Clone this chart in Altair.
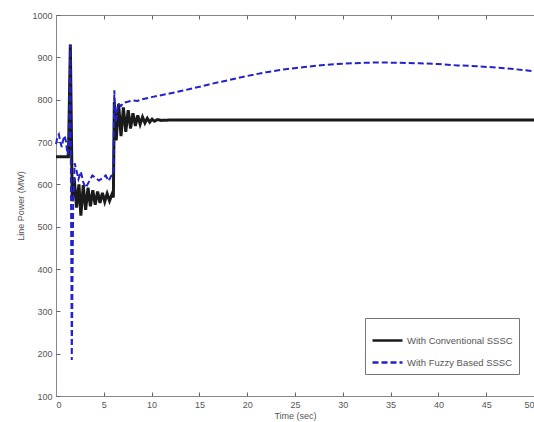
import altair as alt
import pandas as pd

conv_t = [0, 1.3, 1.5, 1.7, 1.9, 2.15, 2.4, 2.6, 2.85, 3.1, 3.35, 3.6, 3.85, 4.1, 4.35,
          4.6, 4.85, 5.1, 5.35, 5.6, 5.85, 6.0, 6.1, 6.3, 6.55, 6.8, 7.05, 7.3, 7.55,
          7.8, 8.05, 8.3, 8.55, 8.8, 9.05, 9.3, 9.55, 9.8, 10.05, 10.3, 10.6, 11.0, 12.0, 50.0]
conv_v = [665, 665, 930, 560, 616, 545, 600, 526, 598, 540, 592, 548, 586, 552, 583,
          556, 580, 559, 578, 561, 576, 569, 795, 704, 790, 714, 782, 724, 775, 732,
          768, 738, 763, 742, 759, 745, 756, 747, 754, 749, 753, 751, 752, 752]

fuzzy_t = [0, 0.15, 0.3, 0.45, 0.6, 0.75, 0.9, 1.05, 1.2, 1.35, 1.5, 1.65, 1.8, 1.95, 2.1,
           2.35, 2.6, 2.85, 3.1, 3.45, 3.8, 4.15, 4.5, 4.85, 5.2, 5.5, 5.8, 6.0, 6.1,
           6.25, 6.5, 6.8, 7.1, 7.5, 8.0, 8.5, 9.0,
           10, 12, 14, 16, 18, 20, 22, 24, 26, 28, 30, 32, 34, 36, 38, 40, 42, 44, 46, 48, 50]
fuzzy_v = [695, 712, 718, 700, 688, 705, 715, 700, 670, 690, 930, 185, 560, 650, 637,
           612, 630, 605, 592, 606, 621, 615, 609, 614, 621, 608, 621, 624, 822,
           745, 791, 785, 793, 795, 798, 797, 801,
           806, 815, 825, 836, 846, 856, 865, 872, 877, 882, 885, 887, 888, 887, 886, 884,
           881, 879, 876, 872, 867]

series_names = ["With Conventional SSSC", "With Fuzzy Based SSSC"]
x_ticks = [0, 5, 10, 15, 20, 25, 30, 35, 40, 45, 50]
y_ticks = [100, 200, 300, 400, 500, 600, 700, 800, 900, 1000]

df = pd.concat([
    pd.DataFrame({"t": conv_t, "p": conv_v, "s": series_names[0]}),
    pd.DataFrame({"t": fuzzy_t, "p": fuzzy_v, "s": series_names[1]}),
])

W, H = 478, 381
FONT = "Liberation Sans"
GREY = "#888888"
TXT = "#555555"

xs = alt.Scale(domain=[0, 50], nice=False, zero=False)
ys = alt.Scale(domain=[100, 1000], nice=False, zero=False)
color = alt.Color("s:N", scale=alt.Scale(domain=series_names, range=["#1a1a1a", "#2222cc"]),
                  legend=alt.Legend(title=None, orient="none", legendX=309, legendY=303,
                                    symbolType="stroke", symbolSize=900, symbolStrokeWidth=2.5,
                                    labelFontSize=9.5, labelColor=TXT, labelFont=FONT,
                                    strokeColor="#777777", fillColor="white", padding=6,
                                    rowPadding=-8, labelOffset=3))
dash = alt.StrokeDash("s:N", scale=alt.Scale(domain=series_names, range=[[1, 0], [6, 3]]))

base_x = alt.X("t:Q", scale=xs, title="Time (sec)",
               axis=alt.Axis(values=x_ticks, ticks=False, labelFontSize=9, labelColor=TXT,
                             labelFont=FONT, titleFont=FONT, titleFontSize=9, titleColor=TXT,
                             titleFontWeight="normal", domainColor=GREY, labelPadding=4,
                             titlePadding=2, grid=False, format="d"))
base_y = alt.Y("p:Q", scale=ys, title="Line Power (MW)",
               axis=alt.Axis(values=y_ticks, ticks=False, labelFontSize=9, labelColor=TXT,
                             labelFont=FONT, titleFont=FONT, titleFontSize=9, titleColor=TXT,
                             titleFontWeight="normal", domainColor=GREY, labelPadding=4,
                             titlePadding=6, grid=False, format="d"))

conv = alt.Chart(df).transform_filter(alt.datum.s == series_names[0]).mark_line(
    strokeWidth=3, interpolate="linear").encode(x=base_x, y=base_y, color=color, strokeDash=dash)
fuzzy = alt.Chart(df).transform_filter(alt.datum.s == series_names[1]).mark_line(
    strokeWidth=2, interpolate="linear").encode(
    x=alt.X("t:Q", scale=xs, axis=None), y=alt.Y("p:Q", scale=ys, axis=None),
    color=color, strokeDash=dash)

tick_ax = dict(labels=False, domain=False, ticks=True, tickSize=4, tickColor="#666666",
               grid=False, title=None)
inner1 = alt.Chart(df).mark_point(opacity=0).encode(
    x=alt.X("t:Q", scale=xs, axis=alt.Axis(orient="top", offset=-H, values=x_ticks, **tick_ax)),
    y=alt.Y("p:Q", scale=ys, axis=alt.Axis(orient="right", offset=-W, values=y_ticks, **tick_ax)))
inner2 = alt.Chart(df).mark_point(opacity=0).encode(
    x=alt.X("t:Q", scale=xs, axis=alt.Axis(orient="bottom", offset=-H, values=x_ticks, **tick_ax)),
    y=alt.Y("p:Q", scale=ys, axis=None))

chart = alt.layer(conv, fuzzy, inner1, inner2).resolve_axis(x="independent", y="independent").properties(
    width=W, height=H,
    autosize=alt.AutoSizeParams(type="none"),
    padding={"left": 56, "top": 15, "right": 0, "bottom": 26},
    background="white",
).configure_view(stroke=GREY, strokeWidth=1)

chart.save("out.html", embed_options={"renderer": "svg", "actions": False})
